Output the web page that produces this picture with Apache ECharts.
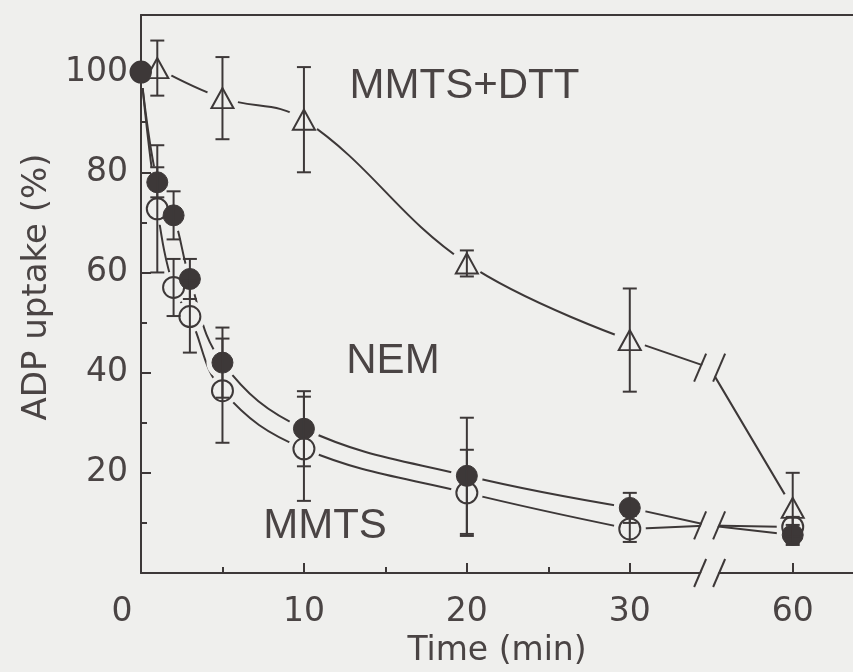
<!DOCTYPE html>
<html>
<head>
<meta charset="utf-8">
<script src="https://cdn.jsdelivr.net/npm/echarts@6/dist/echarts.min.js"></script>
<style>
  html, body { margin: 0; padding: 0; background: #efefed; }
  #chart { width: 853px; height: 672px; }
</style>
</head>
<body>
<div id="chart"></div>
<script>
// ADP uptake (% of control) after incubation with each reagent, mean ± error
const times = [0, 1, 2, 3, 5, 10, 20, 30, 60];
const nemUptake  = [100, 78, 71.4, 58.7, 42, 28.8, 19.4, 13, 7.6];
const nemError   = [0, 3, 4.8, 4, 7, 7.5, 11.6, 3, 2];
const mmtsUptake = [100, 72.7, 57, 51.2, 36.4, 24.8, 16, 8.8, 9.2];
const mmtsError  = [0, 12.7, 5.7, 7.2, 10.4, 10.4, 8.6, 2.6, 2];
const dttTimes   = [1, 5, 10, 20, 30, 60];
const dttUptake  = [100.8, 94.8, 90.5, 61.8, 46.5, 13];
const dttError   = [5.5, 8.2, 10.5, 2.6, 10.3, 7];
// level of each fitted line where it crosses the 30 -> 60 min axis break
const breakLevel = { nem: 9.5, mmts: 9.5, dtt: 41 };
const xTickValues = [0, 10, 20, 30, 60];
const xMinorTicks = [5, 15, 25];
const yTickValues = [20, 40, 60, 80, 100];
const yMinorTicks = [10, 30, 50, 70, 90];
const curveLabels = ['MMTS+DTT', 'NEM', 'MMTS'];

const BG = '#efefed';
const INK = '#3d3838';
const TEXT = '#4a4444';
const TICK_FONT = 'DejaVu Sans';
const LABEL_FONT = 'Liberation Sans';

// broken time axis: everything after 30 min is pulled left by 20 min
const BREAK_AFTER = 30;
const BREAK_SKIP = 20;
const BREAK_AT = 34.9;
const xPos = t => (t > BREAK_AFTER ? t - BREAK_SKIP : t);

const pts = (ts, vs) => ts.map((t, i) => [xPos(t), vs[i]]);
const headPts = (ts, vs) => pts(ts, vs).filter((p, i) => ts[i] <= BREAK_AFTER);
const tailPts = (ts, vs, level) => {
  const i = ts.indexOf(BREAK_AFTER);
  return [[xPos(ts[i]), vs[i]], [BREAK_AT, level]].concat(pts(ts.slice(i + 1), vs.slice(i + 1)));
};
const errPts = (ts, vs, es) =>
  ts.map((t, i) => [xPos(t), vs[i] - es[i], vs[i] + es[i]]).filter((d, i) => es[i] > 0);

const lineStyle = { color: INK, width: 2 };

function curve(data, smooth) {
  return {
    type: 'line', data, smooth: smooth ? 0.4 : false,
    symbol: 'none', lineStyle, z: 2, silent: true
  };
}

function errorBars(data) {
  return {
    type: 'custom', data, z: 7, silent: true,
    encode: { x: 0, y: [1, 2] },
    renderItem(params, api) {
      const x = api.value(0);
      const lo = api.coord([x, api.value(1)]);
      const hi = api.coord([x, api.value(2)]);
      const w = 7;
      const st = { stroke: INK, lineWidth: 2 };
      return {
        type: 'group', children: [
          { type: 'line', shape: { x1: lo[0], y1: lo[1], x2: hi[0], y2: hi[1] }, style: st },
          { type: 'line', shape: { x1: lo[0] - w, y1: lo[1], x2: lo[0] + w, y2: lo[1] }, style: st },
          { type: 'line', shape: { x1: hi[0] - w, y1: hi[1], x2: hi[0] + w, y2: hi[1] }, style: st }
        ]
      };
    }
  };
}

const allMarkers = pts(times, nemUptake).concat(pts(times, mmtsUptake), pts(dttTimes, dttUptake));

const tickText = { color: TEXT, fontSize: 33, fontFamily: TICK_FONT };

const option = {
  backgroundColor: BG,
  animation: false,
  grid: { left: 141, right: 0, top: 15, bottom: 99, outerBoundsMode: 'none', containLabel: false },
  xAxis: [
    {
      type: 'value', min: 0, max: 43.7, position: 'bottom', z: 4,
      axisLine: { show: true, onZero: false, lineStyle: lineStyle },
      axisTick: { show: true, inside: true, length: 10, lineStyle: lineStyle,
                  customValues: xTickValues.slice(1).map(xPos) },
      axisLabel: Object.assign({
        show: true, margin: 23,
        customValues: xTickValues.map(xPos),
        formatter: v => {
          const t = xTickValues.find(tt => xPos(tt) === v);
          return t === 0 ? '{z|0}' : String(t);
        },
        rich: { z: Object.assign({ padding: [0, 38, 0, 0] }, tickText) }
      }, tickText),
      splitLine: { show: false },
      name: 'Time (min)', nameLocation: 'middle', nameGap: 62,
      nameTextStyle: { color: TEXT, fontSize: 33, fontFamily: TICK_FONT }
    },
    {
      type: 'value', min: 0, max: 43.7, position: 'bottom', z: 4,
      axisLine: { show: false, onZero: false },
      axisTick: { show: true, inside: true, length: 6, lineStyle: lineStyle,
                  customValues: xMinorTicks.map(xPos) },
      axisLabel: { show: false }, splitLine: { show: false }
    },
    {
      type: 'value', min: 0, max: 43.7, position: 'top', z: 4,
      axisLine: { show: true, onZero: false, lineStyle: lineStyle },
      axisTick: { show: false }, axisLabel: { show: false }, splitLine: { show: false }
    }
  ],
  yAxis: [
    {
      type: 'value', min: 0, max: 111.4, position: 'left', z: 4,
      axisLine: { show: true, onZero: false, lineStyle: lineStyle },
      axisTick: { show: true, inside: true, length: 10, lineStyle: lineStyle, customValues: yTickValues },
      axisLabel: Object.assign({ show: true, margin: 13, customValues: yTickValues }, tickText),
      splitLine: { show: false },
      name: 'ADP uptake (%)', nameLocation: 'middle', nameGap: 80,
      nameTextStyle: { color: TEXT, fontSize: 34, fontFamily: TICK_FONT, padding: [0, 0, 0, 14] }
    },
    {
      type: 'value', min: 0, max: 111.4, position: 'left', z: 4,
      axisLine: { show: false, onZero: false },
      axisTick: { show: true, inside: true, length: 6, lineStyle: lineStyle, customValues: yMinorTicks },
      axisLabel: { show: false }, splitLine: { show: false }
    }
  ],
  series: [
    curve(headPts(times, nemUptake), true),
    curve(tailPts(times, nemUptake, breakLevel.nem), false),
    curve(headPts(times, mmtsUptake), true),
    curve(tailPts(times, mmtsUptake, breakLevel.mmts), false),
    curve(headPts(dttTimes, dttUptake), true),
    curve(tailPts(dttTimes, dttUptake, breakLevel.dtt), false),
    {
      // clear space around every marker so the curves stop short of it
      type: 'scatter', data: allMarkers, symbol: 'circle', symbolSize: 32,
      itemStyle: { color: BG, opacity: 1 }, z: 3, silent: true
    },
    {
      name: 'MMTS', type: 'scatter', data: pts(times, mmtsUptake), symbol: 'circle', symbolSize: 21,
      itemStyle: { color: BG, borderColor: INK, borderWidth: 2, opacity: 1 }, z: 5, silent: true
    },
    {
      name: 'MMTS+DTT', type: 'scatter', data: pts(dttTimes, dttUptake), symbol: 'triangle', symbolSize: [22, 20],
      itemStyle: { color: BG, borderColor: INK, borderWidth: 2, opacity: 1 }, z: 5, silent: true
    },
    {
      name: 'NEM', type: 'scatter', data: pts(times, nemUptake), symbol: 'circle', symbolSize: 21,
      itemStyle: { color: INK, borderColor: INK, borderWidth: 1, opacity: 1 }, z: 6, silent: true
    },
    errorBars(errPts(times, mmtsUptake, mmtsError)),
    errorBars(errPts(times, nemUptake, nemError)),
    errorBars(errPts(dttTimes, dttUptake, dttError))
  ]
};

const chart = echarts.init(document.getElementById('chart'), null, { renderer: 'canvas' });
chart.setOption(option);

const px = (x, y) => chart.convertToPixel({ seriesIndex: 0 }, [x, y]);

// "//" break symbol: a gap with two slanted strokes
function breakMark(p) {
  const cx = p[0], cy = p[1], dx = 9.5, hw = 6, hh = 14;
  const st = { stroke: INK, lineWidth: 2 };
  return [
    { type: 'polygon', z: 20, silent: true,
      shape: { points: [[cx - dx - hw + 1, cy + hh + 1], [cx - dx + hw + 1, cy - hh - 1],
                        [cx + dx + hw - 1, cy - hh - 1], [cx + dx - hw - 1, cy + hh + 1]] },
      style: { fill: BG } },
    { type: 'line', z: 21, silent: true,
      shape: { x1: cx - dx - hw, y1: cy + hh, x2: cx - dx + hw, y2: cy - hh }, style: st },
    { type: 'line', z: 21, silent: true,
      shape: { x1: cx + dx - hw, y1: cy + hh, x2: cx + dx + hw, y2: cy - hh }, style: st }
  ];
}

// curve names written next to their curves (left edge, vertical centre, in data units)
const labelAnchors = [[12.8, 97.2], [12.6, 42.3], [7.5, 9.2]];

let graphics = []
  .concat(breakMark(px(BREAK_AT, 0)))
  .concat(breakMark(px(BREAK_AT, breakLevel.dtt)))
  .concat(breakMark(px(BREAK_AT, breakLevel.nem)));

curveLabels.forEach((text, i) => {
  const p = px(labelAnchors[i][0], labelAnchors[i][1]);
  graphics.push({
    type: 'text', x: p[0], y: p[1], z: 30, silent: true,
    style: { text, fontSize: 42, fontFamily: LABEL_FONT, fill: TEXT, align: 'left', verticalAlign: 'middle' }
  });
});

chart.setOption({ graphic: graphics });
</script>
</body>
</html>
